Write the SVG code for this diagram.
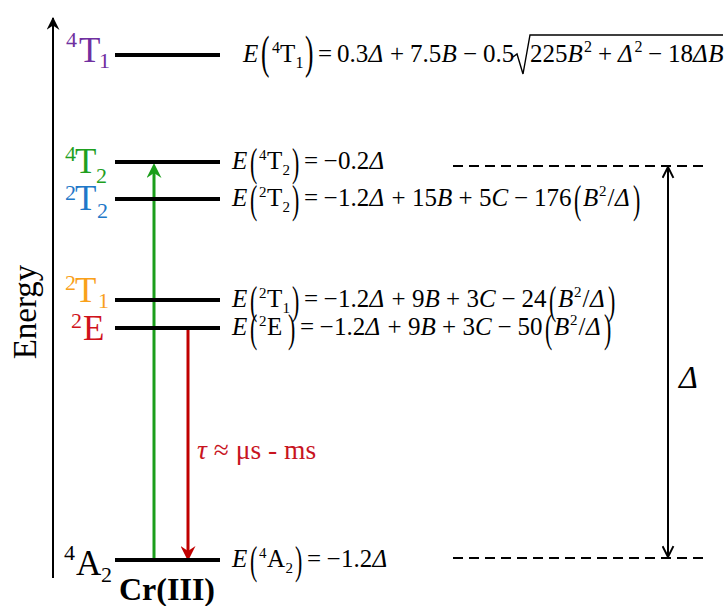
<svg xmlns="http://www.w3.org/2000/svg" width="725" height="606" viewBox="0 0 725 606">
<style>
text{font-family:"Liberation Serif","Times New Roman",serif;fill:#000}
.eq{font-size:25px}
.it{font-style:italic}
.sm{font-size:15px}
.par{font-size:39px}
.par1{font-size:46px}
.lab{font-size:35px}
.ls{font-size:22px}
.lv{stroke:#000;stroke-width:4}
.purple{fill:#7030A0}
.green{fill:#1FA01F}
.blue{fill:#1F78C8}
.orange{fill:#F9A11B}
.red{fill:#D0121B}
</style>
<defs>
<marker id="hk" viewBox="0 0 12 12" refX="11" refY="6" markerWidth="13" markerHeight="13" markerUnits="userSpaceOnUse" orient="auto"><path d="M0,0 L12,6 L0,12 L4,6 z" fill="#000"/></marker>
<marker id="hg" viewBox="0 0 12 12" refX="8" refY="6" markerWidth="15" markerHeight="15" markerUnits="userSpaceOnUse" orient="auto"><path d="M0,0 L12,6 L0,12 L4,6 z" fill="#1B9E1B"/></marker>
<marker id="hr" viewBox="0 0 12 12" refX="8" refY="6" markerWidth="15" markerHeight="15" markerUnits="userSpaceOnUse" orient="auto"><path d="M0,0 L12,6 L0,12 L4,6 z" fill="#C00000"/></marker>
<marker id="ho" viewBox="0 0 12 12" refX="11" refY="6" markerWidth="13" markerHeight="13" markerUnits="userSpaceOnUse" orient="auto-start-reverse"><path d="M1,1 L11,6 L1,11" fill="none" stroke="#000" stroke-width="1.8"/></marker>
</defs>
<rect width="725" height="606" fill="#fff"/>

<g id="connectors">
<line x1="53" y1="578" x2="53" y2="18" stroke="#000" stroke-width="2" marker-end="url(#hk)"/>
<line x1="154" y1="560" x2="154" y2="168" stroke="#1B9E1B" stroke-width="3" marker-end="url(#hg)"/>
<line x1="188" y1="330" x2="188" y2="556" stroke="#C00000" stroke-width="3" marker-end="url(#hr)"/>
<line x1="668" y1="167" x2="668" y2="557" stroke="#000" stroke-width="2" marker-start="url(#ho)" marker-end="url(#ho)"/>
<line x1="453" y1="166" x2="706" y2="166" stroke="#000" stroke-width="2" stroke-dasharray="10,6"/>
<line x1="453" y1="558" x2="706" y2="558" stroke="#000" stroke-width="2" stroke-dasharray="10,6"/>
</g>

<text transform="translate(36,312) rotate(-90)" text-anchor="middle" style="font-size:33px">Energy</text>
<text x="197" y="459" style="font-size:27.5px;fill:#C8141E"><tspan class="it">τ</tspan> ≈ μs - ms</text>
<text x="679" y="388" class="it" style="font-size:32px">Δ</text>
<text x="167" y="600" text-anchor="middle" style="font-size:32px;font-weight:bold">Cr(III)</text>

<g id="level-4T1">
<line class="lv" x1="115" y1="55" x2="220" y2="55"/>
<text class="lab purple"><tspan class="ls" x="66" y="47">4</tspan><tspan x="79" y="62">T</tspan><tspan class="ls" x="99" y="68">1</tspan></text>
<text class="eq"><tspan class="it" x="243" y="62">E</tspan><tspan class="sm" x="272" y="53" style="font-size:16px">4</tspan><tspan x="280" y="62">T</tspan><tspan class="sm" x="295.5" y="68" style="font-size:16px">1</tspan><tspan x="318" y="62">=</tspan><tspan x="337">0.3</tspan><tspan class="it" x="368.5">Δ</tspan><tspan x="390">+</tspan><tspan x="410">7.5</tspan><tspan class="it" x="441.5">B</tspan><tspan x="463">−</tspan><tspan x="483">0.5</tspan><tspan x="530">225</tspan><tspan class="it" x="567.5">B</tspan><tspan class="sm" x="584" y="52" style="font-size:16px">2</tspan><tspan x="598" y="62">+</tspan><tspan class="it" x="618">Δ</tspan><tspan class="sm" x="634.5" y="52" style="font-size:16px">2</tspan><tspan x="648" y="62">−</tspan><tspan x="668">18</tspan><tspan class="it" x="693">Δ</tspan><tspan class="it" x="708.3">B</tspan></text>
<text class="par1" transform="translate(261,68) scale(0.55,1)">(</text>
<text class="par1" transform="translate(305,68) scale(0.55,1)">)</text>
<path d="M513,57 L517,54 L523,74 L530,35 L723,35" fill="none" stroke="#000" stroke-width="1.4"/>
</g>

<g id="level-4T2">
<line class="lv" x1="115" y1="162" x2="220" y2="162"/>
<text class="lab green"><tspan class="ls" x="65" y="161">4</tspan><tspan x="75" y="173">T</tspan><tspan class="ls" x="96" y="183">2</tspan></text>
<text class="eq"><tspan class="it" x="232" y="169">E</tspan><tspan class="sm" x="259" y="160">4</tspan><tspan x="267" y="169">T</tspan><tspan class="sm" x="282.5" y="175">2</tspan><tspan x="304" y="169">=</tspan><tspan x="323.5">−</tspan><tspan x="338">0.2</tspan><tspan class="it" x="369.5">Δ</tspan></text>
<text class="par" transform="translate(250,176) scale(0.56,1)">(</text>
<text class="par" transform="translate(292,176) scale(0.56,1)">)</text>
</g>

<g id="level-2T2">
<line class="lv" x1="115" y1="199" x2="220" y2="199"/>
<text class="lab blue"><tspan class="ls" x="65" y="200">2</tspan><tspan x="75" y="210">T</tspan><tspan class="ls" x="97" y="218">2</tspan></text>
<text class="eq"><tspan class="it" x="232" y="206">E</tspan><tspan class="sm" x="259" y="197">2</tspan><tspan x="267" y="206">T</tspan><tspan class="sm" x="282.5" y="212">2</tspan><tspan x="304" y="206">=</tspan><tspan x="323.5">−</tspan><tspan x="338">1.2</tspan><tspan class="it" x="369.5">Δ</tspan><tspan x="391.5">+</tspan><tspan x="412">15</tspan><tspan class="it" x="437">B</tspan><tspan x="458.5">+</tspan><tspan x="479">5</tspan><tspan class="it" x="491.5">C</tspan><tspan x="514">−</tspan><tspan x="534">176</tspan><tspan class="it" x="583">B</tspan><tspan class="sm" x="599" y="196">2</tspan><tspan x="607.5" y="206">/</tspan><tspan class="it" x="615">Δ</tspan></text>
<text class="par" transform="translate(250,213) scale(0.56,1)">(</text>
<text class="par" transform="translate(292,213) scale(0.56,1)">)</text>
<text class="par" transform="translate(574,213) scale(0.56,1)">(</text>
<text class="par" transform="translate(633,213) scale(0.56,1)">)</text>
</g>

<g id="level-2T1">
<line class="lv" x1="115" y1="300" x2="220" y2="300"/>
<text class="lab orange"><tspan class="ls" x="65" y="290">2</tspan><tspan x="75" y="302">T</tspan><tspan class="ls" x="98" y="308">1</tspan></text>
<text class="eq"><tspan class="it" x="232" y="307">E</tspan><tspan class="sm" x="259" y="298">2</tspan><tspan x="267" y="307">T</tspan><tspan class="sm" x="282.5" y="313">1</tspan><tspan x="304" y="307">=</tspan><tspan x="323.5">−</tspan><tspan x="338">1.2</tspan><tspan class="it" x="369.5">Δ</tspan><tspan x="391.5">+</tspan><tspan x="412">9</tspan><tspan class="it" x="424.5">B</tspan><tspan x="446">+</tspan><tspan x="466.5">3</tspan><tspan class="it" x="479">C</tspan><tspan x="501.5">−</tspan><tspan x="521.5">24</tspan><tspan class="it" x="558">B</tspan><tspan class="sm" x="574" y="297">2</tspan><tspan x="582.5" y="307">/</tspan><tspan class="it" x="590">Δ</tspan></text>
<text class="par" transform="translate(250,314) scale(0.56,1)">(</text>
<text class="par" transform="translate(292,314) scale(0.56,1)">)</text>
<text class="par" transform="translate(549,314) scale(0.56,1)">(</text>
<text class="par" transform="translate(608,314) scale(0.56,1)">)</text>
</g>

<g id="level-2E">
<line class="lv" x1="115" y1="328" x2="220" y2="328"/>
<text class="lab red"><tspan class="ls" x="71" y="328">2</tspan><tspan x="83" y="340">E</tspan></text>
<text class="eq"><tspan class="it" x="232" y="335">E</tspan><tspan class="sm" x="259" y="326">2</tspan><tspan x="267" y="335">E</tspan><tspan x="300">=</tspan><tspan x="319.5">−</tspan><tspan x="334">1.2</tspan><tspan class="it" x="365.5">Δ</tspan><tspan x="387.5">+</tspan><tspan x="408">9</tspan><tspan class="it" x="420.5">B</tspan><tspan x="442">+</tspan><tspan x="462.5">3</tspan><tspan class="it" x="475">C</tspan><tspan x="497.5">−</tspan><tspan x="517.5">50</tspan><tspan class="it" x="554">B</tspan><tspan class="sm" x="570" y="325">2</tspan><tspan x="578.5" y="335">/</tspan><tspan class="it" x="586">Δ</tspan></text>
<text class="par" transform="translate(250,342) scale(0.56,1)">(</text>
<text class="par" transform="translate(288,342) scale(0.56,1)">)</text>
<text class="par" transform="translate(545,342) scale(0.56,1)">(</text>
<text class="par" transform="translate(604,342) scale(0.56,1)">)</text>
</g>

<g id="level-4A2">
<line class="lv" x1="115" y1="560" x2="220" y2="560"/>
<text class="lab"><tspan class="ls" x="64" y="560">4</tspan><tspan x="76" y="575">A</tspan><tspan class="ls" x="101" y="582">2</tspan></text>
<text class="eq"><tspan class="it" x="232" y="567">E</tspan><tspan class="sm" x="259" y="558">4</tspan><tspan x="267" y="567">A</tspan><tspan class="sm" x="285.5" y="573">2</tspan><tspan x="307" y="567">=</tspan><tspan x="326.5">−</tspan><tspan x="341">1.2</tspan><tspan class="it" x="372.5">Δ</tspan></text>
<text class="par" transform="translate(250,574) scale(0.56,1)">(</text>
<text class="par" transform="translate(295,574) scale(0.56,1)">)</text>
</g>
</svg>
